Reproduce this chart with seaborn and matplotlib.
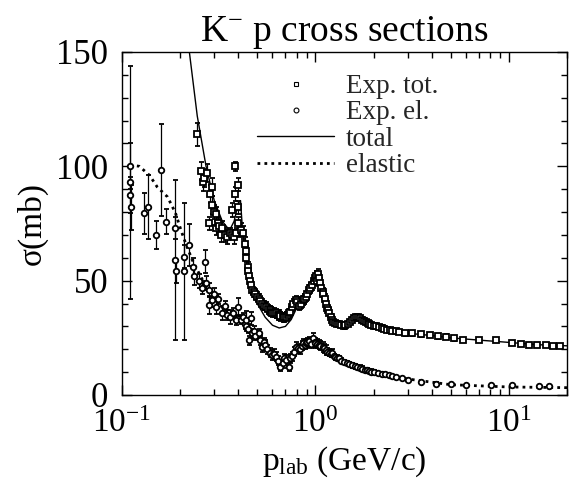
import matplotlib
matplotlib.use('Agg')
import matplotlib.pyplot as plt
from matplotlib.ticker import MultipleLocator, NullFormatter, LogLocator
from matplotlib.lines import Line2D
import seaborn as sns
import pandas as pd

# experimental total cross section: p_lab (GeV/c), sigma (mb), error (mb)
p_tot = [0.245, 0.256, 0.262, 0.266, 0.276, 0.283, 0.285, 0.293, 0.293, 0.300,
         0.306, 0.306, 0.312, 0.318, 0.325, 0.330, 0.340, 0.350, 0.360, 0.370,
         0.372, 0.380, 0.385, 0.385, 0.390, 0.396, 0.396, 0.400, 0.410, 0.420,
         0.430, 0.438, 0.440, 0.446, 0.450, 0.455, 0.460, 0.465, 0.472, 0.480,
         0.490, 0.500, 0.510, 0.520, 0.530, 0.540, 0.556, 0.570, 0.580, 0.590,
         0.600, 0.610, 0.626, 0.640, 0.650, 0.660, 0.680, 0.690, 0.705, 0.720,
         0.730, 0.740, 0.760, 0.770, 0.790, 0.800, 0.820, 0.840, 0.860, 0.870,
         0.890, 0.910, 0.930, 0.940, 0.960, 0.980, 1.000, 1.010, 1.020, 1.030,
         1.050, 1.060, 1.070, 1.090, 1.100, 1.120, 1.130, 1.150, 1.160, 1.180,
         1.200, 1.220, 1.240, 1.270, 1.300, 1.330, 1.360, 1.400, 1.430, 1.470,
         1.510, 1.550, 1.580, 1.620, 1.660, 1.700, 1.740, 1.780, 1.820, 1.860,
         1.900, 1.950, 2.000, 2.060, 2.130, 2.200, 2.270, 2.350, 2.420, 2.500,
         2.600, 2.700, 2.900, 3.170, 3.500, 3.900, 4.300, 4.730, 5.200, 5.800,
         7.000, 8.600, 10.40, 11.50, 12.70, 14.00, 15.60, 17.00, 18.50]
sig_tot = [114, 98, 93, 95, 97, 75, 88, 91, 83, 80,
           79, 73, 75, 74, 70, 73, 70, 69, 71, 70,
           81, 69, 88, 100, 71, 92, 82, 75, 72, 71,
           66, 63, 60, 56, 54, 52, 50, 48, 46, 45,
           44, 43, 42, 41, 40, 39, 38.6, 37.5, 37, 36.5,
           36, 36, 35.8, 35, 35, 34.5, 34, 34, 34.2, 35,
           35.8, 36.5, 38.6, 40, 41.5, 40.5, 39, 40, 41.5, 42,
           43, 44, 46, 47, 48, 50, 51, 52, 50, 53,
           51, 49, 47, 45, 44, 42, 40, 38, 37, 36,
           34, 33, 32, 31.5, 31, 31, 30.5, 30, 30.5, 31,
           32, 33, 33.5, 34, 34, 33.5, 33, 32.5, 32, 31.5,
           31, 30.5, 30.3, 30, 29.8, 29.5, 29, 28.5, 28.3, 28,
           27.8, 27.5, 27, 27, 26.5, 26.2, 25.6, 25.5, 24.8, 24,
           24, 24, 22.7, 22.3, 21.9, 21.9, 21.9, 21.5, 21.4]
err_tot = [5, 4, 4, 4, 4, 3, 4, 4, 4, 3,
           3, 3, 3, 3, 3, 3, 3, 3, 2, 2,
           3, 3, 3, 2, 2, 3, 3, 3, 3, 3,
           3, 2, 2, 2, 2, 2, 2, 2, 2, 2,
           2, 2, 2, 2, 2, 2, 2, 2, 2, 2,
           2, 2, 2, 2, 2, 2, 2, 2, 2, 2,
           2, 2, 2, 2, 2, 2, 2, 2, 2, 2,
           2, 2, 2, 2, 2, 2, 2, 2, 2, 2,
           2, 2, 2, 2, 2, 2, 2, 2, 2, 2,
           1.5, 1.5, 1, 1, 1, 1, 1, 1, 1, 1,
           1, 1, 1, 1, 1, 1, 1, 1, 1, 1,
           1, 1, 1, 1, 1, 1, 1, 1, 1, 1,
           1, 1, 1, 1, 1, 1, 1, 1, 1, 1,
           1, 1, 1, 1, 1, 1, 1, 1, 1]

# experimental elastic cross section
p_el = [0.1106, 0.1106, 0.1106, 0.1116, 0.130, 0.137, 0.150, 0.160, 0.169, 0.187,
        0.188, 0.190, 0.210, 0.210, 0.223, 0.232, 0.235, 0.251, 0.260, 0.269,
        0.272, 0.283, 0.283, 0.293, 0.300, 0.306, 0.315, 0.330, 0.340, 0.350,
        0.360, 0.375, 0.390, 0.400, 0.410, 0.420, 0.430, 0.438, 0.438, 0.446,
        0.455, 0.465, 0.470, 0.480, 0.490, 0.510, 0.520, 0.530, 0.540, 0.550,
        0.565, 0.580, 0.600, 0.610, 0.626, 0.640, 0.660, 0.680, 0.690, 0.705,
        0.730, 0.740, 0.760, 0.775, 0.790, 0.810, 0.830, 0.850, 0.860, 0.880,
        0.890, 0.910, 0.930, 0.950, 0.970, 0.990, 1.000, 1.020, 1.040, 1.060,
        1.090, 1.110, 1.130, 1.150, 1.170, 1.200, 1.220, 1.250, 1.270, 1.300,
        1.330, 1.360, 1.400, 1.450, 1.500, 1.550, 1.600, 1.650, 1.700, 1.750,
        1.800, 1.850, 1.900, 1.950, 2.000, 2.100, 2.200, 2.300, 2.400, 2.500,
        2.600, 2.800, 3.000, 3.500, 4.200, 5.000, 6.000, 8.100, 10.40, 14.40,
        16.20]
sig_el = [100, 93, 87.5, 82, 79.4, 82.3, 70, 98.4, 75.8, 73,
          59, 54, 60.5, 54, 65.6, 56, 52, 50, 47, 58.3,
          49, 46, 39.4, 41.5, 44, 38.6, 42, 36, 39, 35,
          34, 36, 32.8, 38.6, 33, 34, 31, 32.8, 30, 29,
          24, 33.5, 27, 28, 26, 27, 24, 21, 23, 22,
          20, 18.4, 17.5, 18, 16.8, 15, 12.4, 14, 16, 15.3,
          12.4, 16, 17, 19, 21, 20.5, 20, 21.5, 22.7, 22,
          22.6, 23, 23.5, 22.5, 25, 23, 22.6, 22.5, 22, 21.5,
          21, 20.5, 19.7, 19, 18.5, 18, 18.4, 17, 16.5, 16.3,
          16.2, 15, 14.5, 14, 13.5, 13, 12.5, 12.2, 12, 11.5,
          11, 10.8, 10.5, 10.2, 10, 9.6, 9.3, 9, 8.6, 8.3,
          8, 7.5, 6.5, 5.5, 5, 4.6, 4.4, 4.3, 4.2, 3.9,
          3.9]
err_el = [10, 51, 8, 10, 9, 14, 6, 20, 5.5, 5,
          35, 5, 5, 30, 9, 4, 4, 3, 3, 5,
          3, 3, 4, 3, 3, 3, 2, 3, 2, 2,
          3, 2, 2, 4, 2, 2, 2, 4, 2, 2,
          2, 3, 2, 2, 2, 2, 2, 2, 2, 2,
          2, 2, 2, 2, 2, 2, 2, 2, 2, 2,
          2, 2, 2, 2, 2, 2, 2, 2, 2, 2,
          2, 2, 2, 2, 2, 2, 2, 2, 2, 2,
          2, 2, 2, 1.5, 1.5, 1.5, 1.5, 1, 1, 1,
          1, 1, 1, 1, 1, 1, 1, 1, 1, 1,
          1, 1, 1, 1, 1, 0.5, 0.5, 0.5, 0.5, 0.5,
          0.5, 0.5, 0.5, 0.5, 0.5, 0.5, 0.5, 0.5, 0.5, 0.5,
          0.5]

# model curves
p_model_tot = [0.20, 0.223, 0.245, 0.272, 0.30, 0.33, 0.36, 0.38, 0.40, 0.41,
               0.42, 0.45, 0.50, 0.55, 0.60, 0.65, 0.70, 0.75, 0.80, 0.85,
               0.90, 0.95, 1.00, 1.03, 1.08, 1.15, 1.25, 1.40, 1.60, 1.80,
               2.0, 2.5, 3.0, 4.0, 5.0, 7.0, 10.0, 14.0, 20.0]
sig_model_tot = [180, 150, 122, 100, 85, 76, 72, 76, 84, 85,
                 72, 52, 40, 34, 30.5, 29.3, 30, 33, 38, 41,
                 43, 46, 49, 50, 45, 37, 32, 31, 33.5, 32,
                 30, 28, 27, 26, 25, 24, 23, 22, 21.5]
p_model_el = [0.11, 0.123, 0.139, 0.152, 0.172, 0.189, 0.202, 0.214, 0.231, 0.251,
              0.272, 0.30, 0.35, 0.40, 0.45, 0.50, 0.60, 0.70, 0.80, 0.90,
              1.0, 1.1, 1.3, 1.6, 2.0, 3.0, 5.0, 10.0, 20.0]
sig_model_el = [100.6, 100, 96, 91, 86.6, 79.6, 72, 66, 59, 53,
                47.4, 42, 36, 35, 28, 25, 17, 14, 18, 21,
                22, 20, 15, 12, 10, 7, 4.5, 3.5, 3.2]

sns.set_theme(style="ticks")
plt.rcParams['font.family'] = ['Liberation Serif', 'DejaVu Serif']
plt.rcParams['mathtext.fontset'] = 'custom'
plt.rcParams['mathtext.rm'] = 'Liberation Serif'
plt.rcParams['mathtext.it'] = 'Liberation Serif:italic'
plt.rcParams['mathtext.bf'] = 'Liberation Serif:bold'

fig = plt.figure(figsize=(5.69, 4.79), dpi=100)
ax = fig.add_axes([0.2144, 0.1754, 0.7821, 0.7161])

mk = dict(ms=4, mfc='white', mec='black', mew=1.3)
ax.errorbar(p_tot, sig_tot, yerr=err_tot, fmt='s', ecolor='black',
            elinewidth=0.9, capsize=1.8, capthick=0.9, **mk)
ax.errorbar(p_el, sig_el, yerr=err_el, fmt='o', ecolor='black',
            elinewidth=0.9, capsize=1.8, capthick=0.9, **mk)

df_tot = pd.DataFrame({'p': p_model_tot, 'sigma': sig_model_tot})
df_el = pd.DataFrame({'p': p_model_el, 'sigma': sig_model_el})
sns.lineplot(data=df_tot, x='p', y='sigma', ax=ax, color='black', lw=1.0,
             estimator=None, sort=False)
sns.lineplot(data=df_el, x='p', y='sigma', ax=ax, color='black', lw=2.0,
             linestyle=(0, (1, 1.5)), estimator=None, sort=False)

ax.set_xscale('log')
ax.set_xlim(0.1, 20)
ax.set_ylim(0, 150)
ax.yaxis.set_major_locator(MultipleLocator(50))
ax.yaxis.set_minor_locator(MultipleLocator(10))
ax.xaxis.set_minor_locator(LogLocator(base=10, subs=range(2, 10)))
ax.xaxis.set_minor_formatter(NullFormatter())

ax.tick_params(which='both', direction='in', top=True, right=True,
               colors='black', width=1.0)
ax.tick_params(axis='y', labelsize=25)
ax.tick_params(axis='x', labelsize=24)
ax.tick_params(which='major', length=7)
ax.tick_params(which='minor', length=4.5)
ax.tick_params(axis='x', which='major', pad=10)
ax.tick_params(axis='y', which='major', pad=10)
for s in ax.spines.values():
    s.set_color('black')
    s.set_linewidth(1.0)

ax.set_title(r'K$^{-}$ p cross sections', fontsize=27, pad=8, color='black')
ax.set_xlabel(r'p$_{\rm lab}$ (GeV/c)', fontsize=24, color='black')
ax.set_ylabel('σ(mb)', fontsize=24, color='black')
ax.xaxis.set_label_coords(0.5, -0.145)
ax.yaxis.set_label_coords(-0.166, 0.5)

handles = [
    Line2D([], [], marker='s', ls='none', ms=3.5, mfc='white', mec='black', mew=0.8),
    Line2D([], [], marker='o', ls='none', ms=3.5, mfc='white', mec='black', mew=0.8),
    Line2D([], [], color='black', lw=1.0),
    Line2D([], [], color='black', lw=2.0, ls=(0, (1, 1.5))),
]
labels = ['Exp. tot.', 'Exp. el.', 'total', 'elastic']
ax.legend(handles, labels, loc='upper left', bbox_to_anchor=(257 / 569, 1 - 74 / 479),
          bbox_transform=fig.transFigure, frameon=False, fontsize=19.5,
          handlelength=2.85, handletextpad=0.42, labelspacing=0.05,
          borderpad=0, borderaxespad=0)

fig.savefig('out.png', dpi=100)
